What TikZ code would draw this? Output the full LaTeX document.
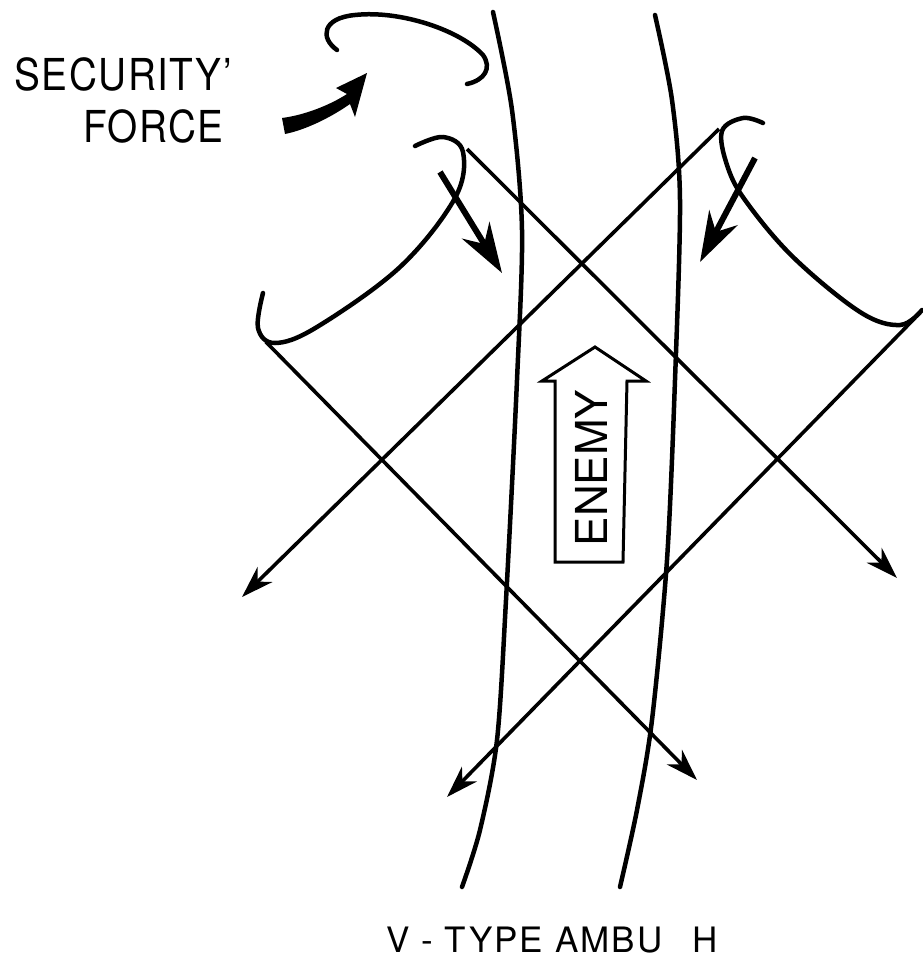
\documentclass[tikz,border=0pt]{standalone}
\usepackage{fontspec}
\setmainfont{TeX Gyre Heros}
\usetikzlibrary{arrows.meta}

\tikzset{
  road/.style={line width=4.5pt, line cap=round},
  unit/.style={line width=4.5pt, line cap=round},
  sweep/.style={line width=3.6pt, -{Stealth[length=32pt,width=21pt,inset=10pt]}},
  move/.style={line width=6pt, -{Stealth[length=50pt,width=32pt,inset=16pt]}},
  label/.style={font=\fontsize{44}{44}\selectfont\addfontfeature{LetterSpace=4}, inner sep=0pt, xscale=0.88},
}

\begin{document}
\begin{tikzpicture}[x=1pt,y=-1pt]
  \useasboundingbox (0,0) rectangle (922,959);
  % the two edges of the road
  \draw[road] plot[smooth] coordinates {(493,12) (512,110) (522,230) (517,380) (506,600) (497,740) (480,830) (462,887)};
  \draw[road] plot[smooth] coordinates {(655,15) (672,100) (680,200) (675,380) (667,560) (652,720) (637,810) (620,887)};
  % security force, hook and heavy arrow
  \draw[unit] (337,50) .. controls (320,38) and (322,18) .. (355,15)
    .. controls (400,10) and (460,30) .. (483,55) .. controls (492,68) and (485,80) .. (467,84);
  \fill (282,118) .. controls (305,115) and (330,105) .. (347,94) -- (336,88) -- (367,73)
    -- (355,117) -- (350,104) .. controls (330,118) and (305,130) .. (285,134) -- cycle;
  % flank positions
  \draw[unit] plot[smooth, tension=0.6] coordinates {(415,146) (443,137) (463,152) (455,198) (400,267) (317,327) (275,343) (258,328) (263,293)};
  \draw[unit] plot[smooth, tension=0.6] coordinates {(763,123) (743,118) (722,131) (727,165) (745,200) (793,257) (860,312) (900,325) (922,310)};
  \coordinate (lu top) at (467,149);
  \coordinate (lu foot) at (266,342);
  \coordinate (ru top) at (719,129);
  \coordinate (ru foot) at (915,318);
  \coordinate (lu top end) at (897,578);
  \coordinate (lu foot end) at (697,780);
  \coordinate (ru top end) at (242,597);
  \coordinate (ru foot end) at (447,797);
  % fields of fire
  \draw[sweep] (lu top) -- (lu top end);
  \draw[sweep] (lu foot) -- (lu foot end);
  \draw[sweep] (ru top) -- (ru top end);
  \draw[sweep] (ru foot) -- (ru foot end);
  % moves into position
  \draw[move] (440,172) -- (502,273);
  \draw[move] (755,158) -- (700,262);
  % enemy column
  \draw[line width=3pt] (555,562) -- (555,381) -- (542,381) -- (595,347) -- (646,381) -- (627,381) -- (623,562) -- cycle;
  \node[rotate=90, font=\fontsize{44}{44}\selectfont, inner sep=0pt] (enemy) at (591,468) {ENEMY};
  % labels
  \node[label, anchor=base east] (security) at (232,90) {SECURITY'};
  \node[label, anchor=base east] (force) at (224,142) {FORCE};
  \node[anchor=base west, inner sep=0pt, font=\fontsize{35}{35}\selectfont\addfontfeature{LetterSpace=6}] (title) at (386,952) {V - TYPE AMBU\hspace{30pt}H};
\end{tikzpicture}
\end{document}
